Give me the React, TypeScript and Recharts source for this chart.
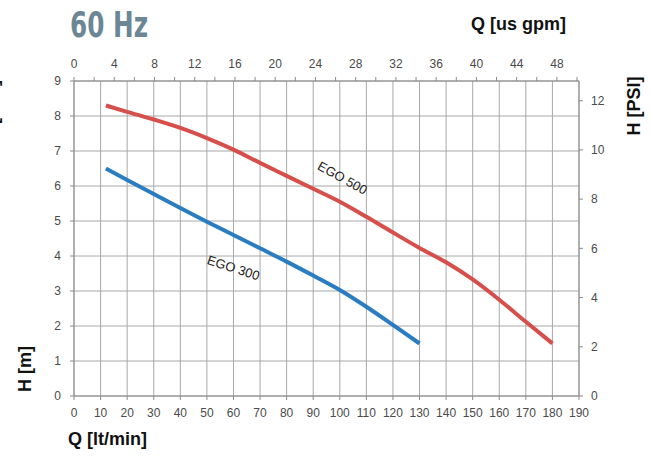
import React from 'react';
import { LineChart, Line, XAxis, YAxis, CartesianGrid, ReferenceDot } from 'recharts';

// flow in lt/min, head in m
const ego500Q = [12, 20, 30, 40, 50, 60, 70, 80, 90, 100, 110, 120, 130, 140, 150, 160, 170, 180];
const ego500H = [8.3, 8.12, 7.9, 7.66, 7.37, 7.04, 6.66, 6.29, 5.92, 5.55, 5.12, 4.67, 4.23, 3.82, 3.33, 2.75, 2.12, 1.5];

const ego300Q = [12, 20, 30, 40, 50, 60, 70, 80, 90, 100, 110, 120, 130];
const ego300H = [6.5, 6.17, 5.77, 5.37, 4.98, 4.6, 4.22, 3.84, 3.44, 3.03, 2.55, 2.03, 1.5];

const qTicks = [0, 10, 20, 30, 40, 50, 60, 70, 80, 90, 100, 110, 120, 130, 140, 150, 160, 170, 180, 190];
const hTicks = [0, 1, 2, 3, 4, 5, 6, 7, 8, 9];
const gpmTicks = [0, 2, 4, 6, 8, 10, 12, 14, 16, 18, 20, 22, 24, 26, 28, 30, 32, 34, 36, 38, 40, 42, 44, 46, 48, 50];
const psiTicks = [0, 2, 4, 6, 8, 10, 12];

const LT_PER_GAL = 3.785;
const PSI_PER_M = 1.4223;

const ego500 = ego500Q.map((q, i) => ({ q, h: ego500H[i] }));
const ego300 = ego300Q.map((q, i) => ({ q, h: ego300H[i] }));
// same curve in us gpm / PSI, only used so the secondary axes have a series
const ego500Imperial = ego500Q.map((q, i) => ({ gpm: q / LT_PER_GAL, psi: ego500H[i] * PSI_PER_M }));

const FONT = '"Liberation Sans", Arial, Helvetica, sans-serif';
const tickStyle = { fill: '#4a4a4a', fontSize: 12, fontFamily: FONT };
const axisColor = '#8a8a8a';

const seriesLabel = (text: string, angle: number) => (props: any) => (
  <text
    x={props.cx}
    y={props.cy}
    transform={`rotate(${angle} ${props.cx} ${props.cy})`}
    textAnchor="middle"
    dominantBaseline="central"
    fontSize={13}
    fontFamily={FONT}
    fill="#222"
  >
    {text}
  </text>
);

export default function App() {
  return (
    <div style={{ position: 'absolute', left: 0, top: 0, width: 651, height: 461, background: '#fff' }}>
      <LineChart width={651} height={461} margin={{ top: 51, right: 32, bottom: 35, left: 34 }}>
        <CartesianGrid stroke="#a8a8a8" />
        <XAxis
          dataKey="q"
          type="number"
          domain={[0, 190]}
          ticks={qTicks}
          interval={0}
          height={30}
          tick={tickStyle}
          tickSize={4}
          tickMargin={8}
          stroke={axisColor}
        />
        <XAxis
          xAxisId="gpm"
          dataKey="gpm"
          orientation="top"
          type="number"
          domain={[0, 190 / LT_PER_GAL]}
          allowDataOverflow
          ticks={gpmTicks}
          interval={0}
          tickFormatter={(v: number) => (v % 4 === 0 && v <= 48 ? String(v) : '')}
          height={30}
          tick={tickStyle}
          tickSize={4}
          tickMargin={9}
          stroke={axisColor}
        />
        <YAxis
          type="number"
          domain={[0, 9]}
          ticks={hTicks}
          interval={0}
          width={40}
          tick={tickStyle}
          tickSize={4}
          tickMargin={9}
          stroke={axisColor}
        />
        <YAxis
          yAxisId="psi"
          orientation="right"
          type="number"
          domain={[0, 9 * PSI_PER_M]}
          allowDataOverflow
          ticks={psiTicks}
          interval={0}
          width={40}
          tick={tickStyle}
          tickSize={4}
          tickMargin={8}
          stroke={axisColor}
        />
        <Line
          data={ego500Imperial}
          xAxisId="gpm"
          yAxisId="psi"
          dataKey="psi"
          type="monotone"
          stroke="transparent"
          strokeWidth={0}
          dot={false}
          activeDot={false}
          isAnimationActive={false}
        />
        <Line
          data={ego500}
          dataKey="h"
          type="monotone"
          stroke="#d64f4b"
          strokeWidth={4}
          dot={false}
          isAnimationActive={false}
        />
        <Line
          data={ego300}
          dataKey="h"
          type="monotone"
          stroke="#2a7dc0"
          strokeWidth={4}
          dot={false}
          isAnimationActive={false}
        />
        <ReferenceDot x={101} y={6.23} r={0} shape={seriesLabel('EGO 500', 29)} />
        <ReferenceDot x={60} y={3.66} r={0} shape={seriesLabel('EGO 300', 18)} />
      </LineChart>
      <svg
        width={651}
        height={461}
        style={{ position: 'absolute', left: 0, top: 0, pointerEvents: 'none' }}
      >
        <text
          x={70}
          y={37}
          fontSize={35}
          fontWeight="bold"
          fontFamily='"Liberation Sans Narrow", "DejaVu Sans Condensed", sans-serif'
          fill="#6b8796"
          textLength={78}
          lengthAdjust="spacingAndGlyphs"
        >
          60 Hz
        </text>
        <text x={471} y={30} fontSize={18} fontWeight="bold" fontFamily={FONT} fill="#111">
          Q [us gpm]
        </text>
        <text x={68} y={445} fontSize={18} fontWeight="bold" fontFamily={FONT} fill="#111">
          Q [lt/min]
        </text>
        <text
          x={31}
          y={369}
          transform="rotate(-90 31 369)"
          textAnchor="middle"
          fontSize={18}
          fontWeight="bold"
          fontFamily={FONT}
          fill="#111"
        >
          H [m]
        </text>
        <text
          x={640}
          y={106}
          transform="rotate(-90 640 106)"
          textAnchor="middle"
          fontSize={18}
          fontWeight="bold"
          fontFamily={FONT}
          fill="#111"
        >
          H [PSI]
        </text>
        <text
          x={-2}
          y={111}
          transform="rotate(-90 -2 111)"
          textAnchor="middle"
          fontSize={18}
          fontWeight="bold"
          fontFamily={FONT}
          fill="#111"
        >
          H [feet]
        </text>
      </svg>
    </div>
  );
}
